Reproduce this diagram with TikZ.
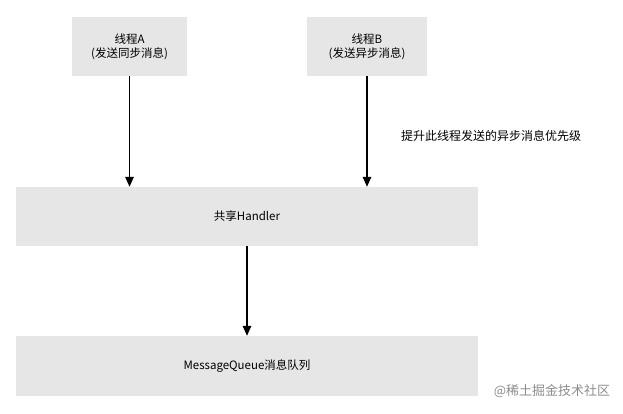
\documentclass[tikz,border=0pt]{standalone}
\usepackage{fontspec}
\setmainfont{Noto Sans CJK SC}
\usetikzlibrary{arrows.meta}
\definecolor{boxgray}{HTML}{E6E6E6}
\begin{document}
\begin{tikzpicture}[x=1pt, y=-1pt,
    box/.style={fill=boxgray, inner sep=0pt, align=center, font=\fontsize{11.5}{14}\selectfont},
    flow/.style={-{Triangle[length=10pt, width=8.5pt]}, line width=1.4pt}]
    \useasboundingbox (0,0) rectangle (623,413);
    % sender threads
    \node[box, minimum width=115pt, minimum height=59pt] (threadA) at (129.5,46.5) {线程A\\(发送同步消息)};
    \node[box, minimum width=120pt, minimum height=59pt] (threadB) at (367,46.5) {线程B\\(发送异步消息)};
    % handler and queue
    \node[box, minimum width=462pt, minimum height=59pt] (handler) at (247,216.5) {共享Handler};
    \node[box, minimum width=462pt, minimum height=60pt] (queue) at (247,366) {MessageQueue消息队列};
    \node[font=\fontsize{12}{14}\selectfont] (note) at (491,136) {提升此线程发送的异步消息优先级};
    \node[font=\fontsize{13}{15}\selectfont, text=black!45] (mark) at (552,391) {@稀土掘金技术社区};
    \draw[flow] (threadA.south) -- (threadA.south |- handler.north);
    \draw[flow] (threadB.south) -- (threadB.south |- handler.north);
    \draw[flow] (handler.south) -- (queue.north);
\end{tikzpicture}
\end{document}
